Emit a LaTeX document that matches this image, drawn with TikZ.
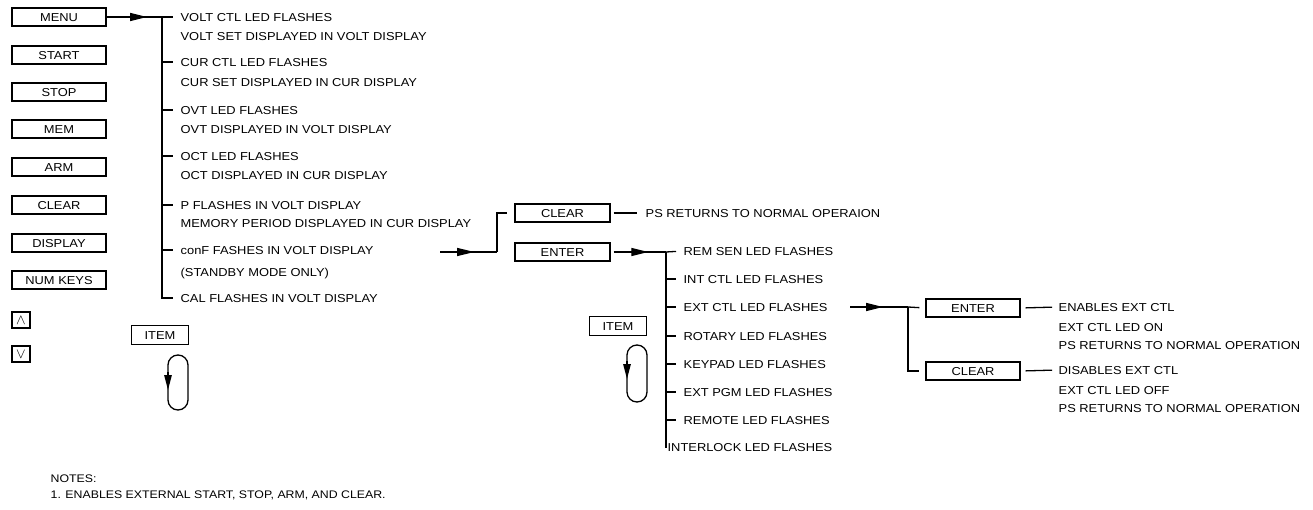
\documentclass[tikz,border=0pt]{standalone}
\usepackage{fontspec}
\setmainfont{Liberation Sans}[FakeStretch=1.12]
\usetikzlibrary{arrows.meta,decorations.markings}

\begin{document}
\begin{tikzpicture}[x=1pt,y=-1pt,line width=1.3pt,
    font=\fontsize{11.5}{13}\selectfont,
    keybox/.style={draw,minimum width=94pt,minimum height=18pt,
        inner sep=0pt,text height=8.2pt,text depth=0pt},
    smallkey/.style={draw,minimum width=18pt,minimum height=16pt,
        inner sep=0pt},
    itembox/.style={draw,minimum width=57pt,minimum height=19pt,
        inner sep=0pt,text height=8.2pt,text depth=0pt},
    msg/.style={anchor=west,inner sep=0pt,text height=8.2pt,text depth=0pt},
    tick/.style={shorten >=7pt},
    gap/.style={shorten >=6pt},
    flowarrow/.style={decoration={markings,
        mark=at position #1 with {\arrow{Triangle[length=17pt,width=8pt]}}},
        postaction={decorate}},
    flowarrow/.default=0.62,
    looptip/.style={-{Triangle[length=15pt,width=7.5pt]}}]
    \useasboundingbox (0,0) rectangle (1313,510);

    % front panel keys
    \node[keybox] (menu-key) at (59,17) {MENU};
    \node[keybox] (start-key) at (59,55) {START};
    \node[keybox] (stop-key) at (59,92) {STOP};
    \node[keybox] (mem-key) at (59,129) {MEM};
    \node[keybox] (arm-key) at (59,167) {ARM};
    \node[keybox] (clear-key) at (59,205) {CLEAR};
    \node[keybox] (display-key) at (59,243) {DISPLAY};
    \node[keybox] (numkeys-key) at (59,280) {NUM KEYS};
    \node[smallkey] (up-key) at (21,320)
        {\fontsize{15}{15}\selectfont$\wedge$};
    \node[smallkey] (down-key) at (21,354)
        {\fontsize{15}{15}\selectfont$\vee$};

    % menu sequence
    \node[msg] (volt-ctl) at (180,17) {VOLT CTL LED FLASHES};
    \node[msg] (volt-set) at (180,36) {VOLT SET DISPLAYED IN VOLT DISPLAY};
    \node[msg] (cur-ctl) at (180,62) {CUR CTL LED FLASHES};
    \node[msg] (cur-set) at (180,82) {CUR SET DISPLAYED IN CUR DISPLAY};
    \node[msg] (ovt-led) at (180,110) {OVT LED FLASHES};
    \node[msg] (ovt-disp) at (180,129) {OVT DISPLAYED IN VOLT DISPLAY};
    \node[msg] (oct-led) at (180,156) {OCT LED FLASHES};
    \node[msg] (oct-disp) at (180,175) {OCT DISPLAYED IN CUR DISPLAY};
    \node[msg] (p-flash) at (180,205) {P FLASHES IN VOLT DISPLAY};
    \node[msg] (mem-period) at (180,223)
        {MEMORY PERIOD DISPLAYED IN CUR DISPLAY};
    \node[msg] (conf-flash) at (180,250) {conF FASHES IN VOLT DISPLAY};
    \node[msg] (standby) at (180,272) {(STANDBY MODE ONLY)};
    \node[msg] (cal-flash) at (180,298) {CAL FLASHES IN VOLT DISPLAY};

    \coordinate (menu-bus) at (162,17);
    \draw[flowarrow=0.73] (menu-key.east) -- (menu-bus);
    \draw[tick] (menu-bus) -- (volt-ctl.west);
    \draw[tick] (menu-bus) |- (cal-flash.west);
    \draw[tick] (menu-bus |- cur-ctl.west) -- (cur-ctl.west);
    \draw[tick] (menu-bus |- ovt-led.west) -- (ovt-led.west);
    \draw[tick] (menu-bus |- oct-led.west) -- (oct-led.west);
    \draw[tick] (menu-bus |- p-flash.west) -- (p-flash.west);
    \draw[tick] (menu-bus |- conf-flash.west) -- (conf-flash.west);

    \node[itembox] (item-menu) at (160,335) {ITEM};
    \draw[rounded corners=10pt] (168,355) rectangle (188,410);
    \draw[looptip] (168,372) -- (168,390);

    % config mode
    \coordinate (conf-out) at (440,252);
    \coordinate (mode-bus) at (497,252);
    \draw[flowarrow=0.6] (conf-out) -- (mode-bus);
    \node[keybox,minimum width=95pt] (clear-mode) at (562.5,213) {CLEAR};
    \node[keybox,minimum width=95pt] (enter-mode) at (562.5,252) {ENTER};
    \draw[shorten >=7pt] (mode-bus) |- (clear-mode.west);
    \node[msg] (ps-normal) at (645,213) {PS RETURNS TO NORMAL OPERAION};
    \draw[shorten <=3pt,shorten >=8pt] (clear-mode.east) -- (ps-normal.west);

    % control source
    \node[msg] (rem-sen) at (683,251) {REM SEN LED FLASHES};
    \node[msg] (int-ctl) at (683,279) {INT CTL LED FLASHES};
    \node[msg] (ext-ctl) at (683,307) {EXT CTL LED FLASHES};
    \node[msg] (rotary) at (683,336) {ROTARY LED FLASHES};
    \node[msg] (keypad) at (683,364) {KEYPAD LED FLASHES};
    \node[msg] (ext-pgm) at (683,392) {EXT PGM LED FLASHES};
    \node[msg] (remote) at (683,420) {REMOTE LED FLASHES};
    \node[msg] (interlock) at (667,447) {INTERLOCK LED FLASHES};

    \coordinate (src-bus) at (666,252);
    \draw[flowarrow=0.68,shorten <=3pt] (enter-mode.east) -- (src-bus);
    \draw[tick] (src-bus) -- (rem-sen.west);
    \draw (src-bus) |- (interlock.west);
    \draw[tick] (src-bus |- int-ctl.west) -- (int-ctl.west);
    \draw[tick] (src-bus |- ext-ctl.west) -- (ext-ctl.west);
    \draw[tick] (src-bus |- rotary.west) -- (rotary.west);
    \draw[tick] (src-bus |- keypad.west) -- (keypad.west);
    \draw[tick] (src-bus |- ext-pgm.west) -- (ext-pgm.west);
    \draw[tick] (src-bus |- remote.west) -- (remote.west);

    \node[itembox] (item-src) at (618,326) {ITEM};
    \draw[rounded corners=10pt] (627,345) rectangle (647,402);
    \draw[looptip] (627,361) -- (627,379);

    % external control
    \coordinate (ext-out) at (850,307);
    \coordinate (ext-bus) at (908,307);
    \draw[flowarrow=0.57] (ext-out) -- (ext-bus);
    \node[keybox] (enter-ext) at (973,308) {ENTER};
    \node[keybox] (clear-ext) at (973,371) {CLEAR};
    \draw[gap] (ext-bus) -- (enter-ext.west);
    \draw[gap] (ext-bus) |- (clear-ext.west);

    \node[msg] (enables) at (1058,307) {ENABLES EXT CTL};
    \node[msg] (led-on) at (1058,327) {EXT CTL LED ON};
    \node[msg] (ps-on) at (1058,345) {PS RETURNS TO NORMAL OPERATION};
    \node[msg] (disables) at (1058,370) {DISABLES EXT CTL};
    \node[msg] (led-off) at (1058,390) {EXT CTL LED OFF};
    \node[msg] (ps-off) at (1058,408) {PS RETURNS TO NORMAL OPERATION};
    \draw[shorten <=5pt,shorten >=6pt] (enter-ext.east) -- (enables.west);
    \draw[shorten <=5pt,shorten >=6pt] (clear-ext.east) -- (disables.west);

    % notes
    \node[msg,font=\fontsize{11}{13}\selectfont] (notes-title)
        at (50,478) {NOTES:};
    \node[msg,font=\fontsize{11}{13}\selectfont] (note-one)
        at (50,494) {1. ENABLES EXTERNAL START, STOP, ARM, AND CLEAR.};
\end{tikzpicture}
\end{document}
